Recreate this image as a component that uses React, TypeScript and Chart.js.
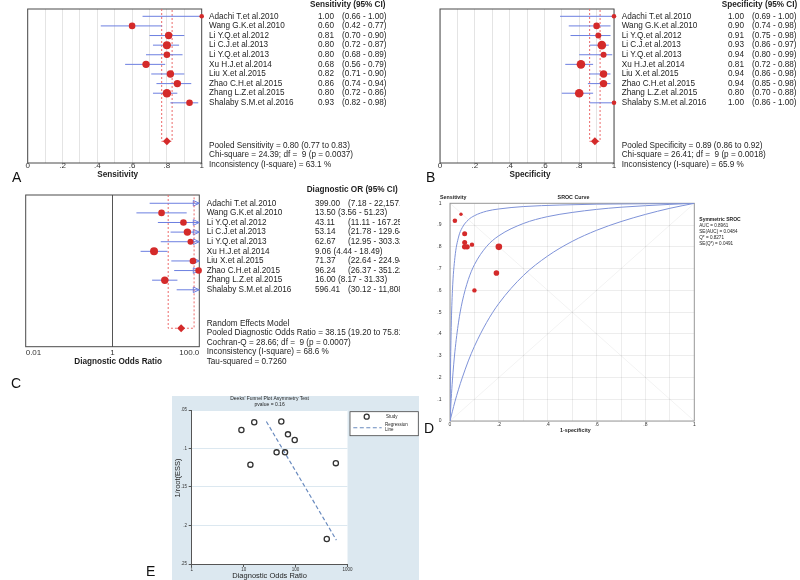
import { useEffect, useRef } from "react";
import { Chart, registerables } from "chart.js";

Chart.register(...registerables);

const FONT = '"Liberation Sans", Arial, Helvetica, sans-serif';
Chart.defaults.font.family = FONT;

const RED = "#d42a2a";
const BLUE = "#6c7fe0";
const PINK = "#ec6a6a";
const CURVE = "#7e92d8";
const TXT = "#1e1e1e";

// ---------------- data ----------------
const studies = [
  "Adachi T.et al.2010",
  "Wang G.K.et al.2010",
  "Li Y.Q.et al.2012",
  "Li C.J.et al.2013",
  "Li Y.Q.et al.2013",
  "Xu H.J.et al.2014",
  "Liu X.et al.2015",
  "Zhao C.H.et al.2015",
  "Zhang L.Z.et al.2015",
  "Shalaby S.M.et al.2016",
];

const sens = [1.0, 0.6, 0.81, 0.8, 0.8, 0.68, 0.82, 0.86, 0.8, 0.93];
const sensLo = [0.66, 0.42, 0.7, 0.72, 0.68, 0.56, 0.71, 0.74, 0.72, 0.82];
const sensHi = [1.0, 0.77, 0.9, 0.87, 0.89, 0.79, 0.9, 0.94, 0.86, 0.98];
const sensWeight = [2.3, 3.3, 3.7, 4.0, 3.3, 3.7, 3.7, 3.7, 4.3, 3.3];
const pooledSens = [0.8, 0.77, 0.83];
const sensHet = [24.39, 9, 0.0037, 63.1];

const spec = [1.0, 0.9, 0.91, 0.93, 0.94, 0.81, 0.94, 0.94, 0.8, 1.0];
const specLo = [0.69, 0.74, 0.75, 0.86, 0.8, 0.72, 0.86, 0.85, 0.7, 0.86];
const specHi = [1.0, 0.98, 0.98, 0.97, 0.99, 0.88, 0.98, 0.98, 0.88, 1.0];
const specWeight = [2.3, 3.3, 3.0, 4.3, 3.0, 4.3, 3.7, 3.7, 4.3, 2.3];
const pooledSpec = [0.89, 0.86, 0.92];
const specHet = [26.41, 9, 0.0018, 65.9];

const dor = [399.0, 13.5, 43.11, 53.14, 62.67, 9.06, 71.37, 96.24, 16.0, 596.41];
const dorLo = [7.18, 3.56, 11.11, 21.78, 12.95, 4.44, 22.64, 26.37, 8.17, 30.12];
const dorHi = [22157.79, 51.23, 167.25, 129.64, 303.32, 18.49, 224.94, 351.22, 31.33, 11808.15];
const dorWeight = [3.0, 3.3, 3.3, 3.7, 3.0, 4.0, 3.3, 3.3, 3.7, 3.0];
const pooledDor = [38.15, 19.2, 75.81];
const dorHet = [28.66, 9, 0.0007, 68.6];
const dorTau2 = 0.726;

const propTicks = [0, 0.1, 0.2, 0.3, 0.4, 0.5, 0.6, 0.7, 0.8, 0.9, 1];
const propTickLabels = ["0", "", ".2", "", ".4", "", ".6", "", ".8", "", "1"];
const dorTicks = [0.01, 1, 100];
const dorTickLabels = ["0.01", "1", "100.0"];

// SROC
const srocFpr = [0.045, 0.1, 0.09, 0.07, 0.06, 0.19, 0.06, 0.06, 0.2, 0.02];
const srocTpr = [0.95, 0.6, 0.81, 0.8, 0.8, 0.68, 0.82, 0.86, 0.8, 0.92];
const srocWeight = [1.7, 2.2, 2.2, 2.7, 2.7, 2.8, 2.5, 2.5, 3.3, 2.3];
const srocStats = [0.8961, 0.0484, 0.8271, 0.0491];
const srocTicks = [0, 0.1, 0.2, 0.3, 0.4, 0.5, 0.6, 0.7, 0.8, 0.9, 1];
const srocYLabels = ["0", ".1", ".2", ".3", ".4", ".5", ".6", ".7", ".8", ".9", "1"];
const srocXLabels = ["0", "", ".2", "", ".4", "", ".6", "", ".8", "", "1"];
const curveOuterFpr = [0, 0.002, 0.005, 0.01, 0.02, 0.035, 0.05, 0.075, 0.1, 0.15, 0.2, 0.3, 0.45, 0.6, 0.8, 1];
const curveOuterTpr = [0, 0.23, 0.43, 0.6, 0.75, 0.845, 0.888, 0.924, 0.943, 0.964, 0.974, 0.985, 0.992, 0.996, 0.998, 1];
const curveMidFpr = [0, 0.005, 0.01, 0.02, 0.035, 0.05, 0.075, 0.1, 0.15, 0.2, 0.3, 0.4, 0.5, 0.6, 0.7, 0.8, 0.9, 1];
const curveMidTpr = [0, 0.103, 0.188, 0.318, 0.454, 0.547, 0.65, 0.718, 0.802, 0.851, 0.907, 0.939, 0.958, 0.972, 0.982, 0.989, 0.995, 1];
const curveInnerFpr = [0, 0.01, 0.02, 0.035, 0.05, 0.075, 0.1, 0.15, 0.2, 0.3, 0.4, 0.5, 0.6, 0.7, 0.8, 0.9, 1];
const curveInnerTpr = [0, 0.045, 0.088, 0.146, 0.198, 0.276, 0.343, 0.453, 0.54, 0.668, 0.758, 0.825, 0.876, 0.916, 0.949, 0.977, 1];

// Deeks funnel
const deeksInvRootEss = [0.2175, 0.121, 0.105, 0.065, 0.105, 0.076, 0.0816, 0.089, 0.066, 0.119];
const deeksRegDor = [27.4, 611];
const deeksRegY = [0.065, 0.219];
const deeksP = 0.16;
const deeksXTicks = [1, 10, 100, 1000];
const deeksXLabels = ["1", "10", "100", "1000"];
const deeksYTicks = [0.05, 0.1, 0.15, 0.2, 0.25];
const deeksYLabels = [".05", ".1", ".15", ".2", ".25"];

// ---------------- helpers ----------------
const fmt2 = (v: number) =>
  v.toLocaleString("en-US", { minimumFractionDigits: 2, maximumFractionDigits: 2 });

const labelFrom = (ticks: number[], labels: string[]) => (v: number) => {
  const k = ticks.findIndex((t) => Math.abs(t - v) < 1e-9 * Math.max(1, Math.abs(t)));
  return k >= 0 ? labels[k] : "";
};

function hetLine(h: number[]) {
  return `Chi-square = ${h[0].toFixed(2)}; df =  ${h[1]} (p = ${h[2].toFixed(4)})`;
}

interface ForestSpec {
  vals: number[];
  lo: number[];
  hi: number[];
  weight: number[];
  pooled: number[];
  valText: string[];
  ciText: string[];
  header: string;
  stats: string[];
  title: string;
  xType: "linear" | "logarithmic";
  xMin: number;
  xMax: number;
  gridTicks: number[];
  tickLabelOf: (v: number) => string;
  gridColorOf: (v: number) => string;
  W: number;
  H: number;
  caL: number;
  caR: number;
  caT: number;
  caB: number;
  axisH: number;
  yMin: number;
  yMax: number;
  tickPad: number;
  tickAlign: "center" | "inner";
  labelX: number;
  valX: number;
  ciX: (i: number, ctx: CanvasRenderingContext2D) => number;
  headerX: number;
  headerY: number;
  statsY: number[];
  titleX: number;
  titleY: number;
  arrows: boolean;
}

function makeForest(canvas: HTMLCanvasElement, s: ForestSpec) {
  const n = s.vals.length;
  const pooledRow = n + 3;
  const idx = s.vals.map((_, i) => i);
  const shown = idx.filter((i) => s.vals[i] >= s.xMin && s.vals[i] <= s.xMax);
  const datasets: any[] = [
    {
      data: shown.map((i) => ({ x: s.vals[i], y: i })),
      pointRadius: shown.map((i) => s.weight[i]),
      backgroundColor: RED,
      borderColor: RED,
      borderWidth: 0,
      clip: false,
      order: 0,
    },
    {
      data: [{ x: s.pooled[0], y: pooledRow }],
      pointStyle: "rectRot",
      pointRadius: 4,
      backgroundColor: RED,
      borderColor: RED,
      borderWidth: 0,
      clip: false,
      order: 0,
    },
    ...idx.map((i) => ({
      data: [
        { x: s.lo[i], y: i },
        { x: s.hi[i], y: i },
      ],
      showLine: true,
      borderColor: BLUE,
      borderWidth: 1,
      pointRadius: 0,
      order: 1,
    })),
    {
      data: [
        { x: s.pooled[1], y: s.yMin },
        { x: s.pooled[1], y: pooledRow },
        { x: s.pooled[2], y: pooledRow },
        { x: s.pooled[2], y: s.yMin },
      ],
      showLine: true,
      borderColor: PINK,
      borderWidth: 1,
      borderDash: [2, 2],
      pointRadius: 0,
      order: 2,
    },
  ];

  const deco = {
    id: "forestDeco",
    beforeDatasetsDraw(chart: any) {
      const { ctx, chartArea: a } = chart;
      ctx.save();
      ctx.strokeStyle = "#4a4a4a";
      ctx.lineWidth = 1;
      ctx.strokeRect(a.left, a.top, a.right - a.left, a.bottom - a.top);
      if (s.arrows) {
        const y = chart.scales.y;
        idx.forEach((i) => {
          if (s.hi[i] > s.xMax) {
            const py = y.getPixelForValue(i);
            ctx.beginPath();
            ctx.moveTo(a.right, py);
            ctx.lineTo(a.right - 6, py - 2.8);
            ctx.lineTo(a.right - 6, py + 2.8);
            ctx.closePath();
            ctx.fillStyle = "#fff";
            ctx.fill();
            ctx.strokeStyle = BLUE;
            ctx.stroke();
          }
        });
      }
      ctx.restore();
    },
    afterDraw(chart: any) {
      const { ctx } = chart;
      const y = chart.scales.y;
      ctx.save();
      ctx.fillStyle = TXT;
      ctx.textBaseline = "middle";
      ctx.textAlign = "left";
      ctx.font = `bold 8.2px ${FONT}`;
      ctx.fillText(s.header, s.headerX, s.headerY);
      ctx.font = `8.2px ${FONT}`;
      studies.forEach((name, i) => {
        const py = y.getPixelForValue(i);
        ctx.fillText(name, s.labelX, py);
        ctx.fillText(s.valText[i], s.valX, py);
        ctx.fillText(s.ciText[i], s.ciX(i, ctx), py);
      });
      s.stats.forEach((t, k) => ctx.fillText(t, s.labelX, s.statsY[k]));
      ctx.font = `bold 8.2px ${FONT}`;
      ctx.textAlign = "center";
      ctx.fillText(s.title, s.titleX, s.titleY);
      ctx.restore();
    },
  };

  return new Chart(canvas, {
    type: "scatter",
    data: { datasets },
    plugins: [deco],
    options: {
      responsive: false,
      animation: false,
      devicePixelRatio: 1,
      events: [],
      layout: {
        autoPadding: false,
        padding: { left: s.caL, right: s.W - s.caR, top: s.caT, bottom: s.H - s.caB - s.axisH },
      },
      plugins: { legend: { display: false }, tooltip: { enabled: false } },
      scales: {
        x: {
          type: s.xType,
          min: s.xMin,
          max: s.xMax,
          afterBuildTicks: (sc: any) => {
            sc.ticks = s.gridTicks.map((v) => ({ value: v }));
          },
          afterFit: (sc: any) => {
            sc.height = s.axisH;
          },
          ticks: {
            callback: (v: any) => s.tickLabelOf(Number(v)),
            autoSkip: false,
            maxRotation: 0,
            minRotation: 0,
            padding: s.tickPad,
            align: s.tickAlign,
            color: "#333",
            font: { size: 8, lineHeight: 1 },
          },
          grid: {
            color: (c: any) => s.gridColorOf(c.tick ? c.tick.value : NaN),
            drawTicks: false,
            lineWidth: 1,
          },
          border: { display: false },
        },
        y: { type: "linear", min: s.yMin, max: s.yMax, reverse: true, display: false },
      },
    } as any,
  });
}

function makeSroc(canvas: HTMLCanvasElement) {
  const W = 420,
    H = 250,
    caL = 70,
    caR = 314.3,
    caT = 13.3,
    caB = 231;
  const yW = 20,
    xH = 12;
  const curve = (fx: number[], fy: number[]) => ({
    data: fx.map((x, i) => ({ x, y: fy[i] })),
    showLine: true,
    borderColor: CURVE,
    borderWidth: 1,
    pointRadius: 0,
    cubicInterpolationMode: "monotone",
    order: 1,
  });
  const datasets: any[] = [
    {
      data: srocFpr.map((x, i) => ({ x, y: srocTpr[i] })),
      pointRadius: srocWeight,
      backgroundColor: RED,
      borderColor: RED,
      borderWidth: 0,
      clip: false,
      order: 0,
    },
    curve(curveOuterFpr, curveOuterTpr),
    curve(curveMidFpr, curveMidTpr),
    curve(curveInnerFpr, curveInnerTpr),
    {
      data: [
        { x: 0, y: 0 },
        { x: 1, y: 1 },
      ],
      showLine: true,
      borderColor: "rgba(0,0,0,0.05)",
      borderWidth: 1,
      pointRadius: 0,
      order: 2,
    },
    {
      data: [
        { x: 0, y: 1 },
        { x: 1, y: 0 },
      ],
      showLine: true,
      borderColor: "rgba(0,0,0,0.05)",
      borderWidth: 1,
      pointRadius: 0,
      order: 2,
    },
  ];
  const deco = {
    id: "srocDeco",
    beforeDatasetsDraw(chart: any) {
      const { ctx, chartArea: a } = chart;
      ctx.save();
      ctx.strokeStyle = "#9a9a9a";
      ctx.lineWidth = 1;
      ctx.strokeRect(a.left, a.top, a.right - a.left, a.bottom - a.top);
      ctx.restore();
    },
    afterDraw(chart: any) {
      const { ctx, chartArea: a } = chart;
      ctx.save();
      ctx.fillStyle = TXT;
      ctx.textBaseline = "middle";
      ctx.font = `bold 5.3px ${FONT}`;
      ctx.textAlign = "left";
      ctx.fillText("Sensitivity", a.left - 10, a.top - 6);
      ctx.textAlign = "center";
      ctx.fillText("SROC Curve", 193.5, a.top - 6);
      ctx.fillText("1-specificity", 195.3, a.bottom + 9.7);
      ctx.textAlign = "left";
      const lx = a.right + 5;
      ctx.font = `bold 5px ${FONT}`;
      ctx.fillText("Symmetric SROC", lx, 30);
      ctx.font = `4.6px ${FONT}`;
      const lines = [
        `AUC = ${srocStats[0].toFixed(4)}`,
        `SE(AUC) = ${srocStats[1].toFixed(4)}`,
        `Q* = ${srocStats[2].toFixed(4)}`,
        `SE(Q*) = ${srocStats[3].toFixed(4)}`,
      ];
      lines.forEach((t, k) => ctx.fillText(t, lx, 35.7 + k * 5.9));
      ctx.restore();
    },
  };
  return new Chart(canvas, {
    type: "scatter",
    data: { datasets },
    plugins: [deco],
    options: {
      responsive: false,
      animation: false,
      devicePixelRatio: 1,
      events: [],
      layout: {
        autoPadding: false,
        padding: { left: caL - yW, right: W - caR, top: caT, bottom: H - caB - xH },
      },
      plugins: { legend: { display: false }, tooltip: { enabled: false } },
      scales: {
        x: {
          type: "linear",
          min: 0,
          max: 1,
          afterBuildTicks: (sc: any) => {
            sc.ticks = srocTicks.map((v) => ({ value: v }));
          },
          afterFit: (sc: any) => {
            sc.height = xH;
          },
          ticks: {
            callback: (v: any) => labelFrom(srocTicks, srocXLabels)(Number(v)),
            autoSkip: false,
            maxRotation: 0,
            padding: 1.5,
            color: "#333",
            font: { size: 5, lineHeight: 1 },
          },
          grid: { color: "rgba(0,0,0,0.07)", drawTicks: false },
          border: { display: false },
        },
        y: {
          type: "linear",
          min: 0,
          max: 1,
          afterBuildTicks: (sc: any) => {
            sc.ticks = srocTicks.map((v) => ({ value: v }));
          },
          afterFit: (sc: any) => {
            sc.width = yW;
          },
          ticks: {
            callback: (v: any) => labelFrom(srocTicks, srocYLabels)(Number(v)),
            autoSkip: false,
            padding: 8.5,
            color: "#333",
            font: { size: 5, lineHeight: 1 },
          },
          grid: { color: "rgba(0,0,0,0.07)", drawTicks: false },
          border: { display: false },
        },
      },
    } as any,
  });
}

function makeDeeks(canvas: HTMLCanvasElement) {
  const W = 247,
    H = 184,
    caL = 19.7,
    caR = 175.5,
    caT = 14,
    caB = 168;
  const yW = 12,
    xH = 10;
  const BG = "rgb(220,232,240)";
  const datasets: any[] = [
    {
      data: dor.map((x, i) => ({ x, y: deeksInvRootEss[i] })),
      pointRadius: 2.6,
      backgroundColor: "rgba(0,0,0,0)",
      borderColor: "#333",
      borderWidth: 1.3,
      order: 0,
    },
    {
      data: deeksRegDor.map((x, i) => ({ x, y: deeksRegY[i] })),
      showLine: true,
      borderColor: "#6a8bbf",
      borderWidth: 1.2,
      borderDash: [4, 2.5],
      pointRadius: 0,
      order: 1,
    },
  ];
  const deco = {
    id: "deeksDeco",
    beforeDraw(chart: any) {
      const { ctx, chartArea: a } = chart;
      ctx.save();
      ctx.fillStyle = BG;
      ctx.fillRect(0, 0, chart.width, chart.height);
      ctx.fillStyle = "#fff";
      ctx.fillRect(a.left, a.top, a.right - a.left, a.bottom - a.top);
      ctx.restore();
    },
    afterDraw(chart: any) {
      const { ctx, chartArea: a } = chart;
      ctx.save();
      ctx.fillStyle = TXT;
      ctx.textBaseline = "middle";
      ctx.textAlign = "center";
      const cx = (a.left + a.right) / 2;
      ctx.font = `5px ${FONT}`;
      ctx.fillText("Deeks' Funnel Plot Asymmetry Test", cx, 3);
      ctx.fillText(`pvalue = ${deeksP.toFixed(2)}`, cx, 8.5);
      ctx.font = `7.5px ${FONT}`;
      ctx.fillText("Diagnostic Odds Ratio", cx, 179.5);
      ctx.save();
      ctx.translate(5.5, 82);
      ctx.rotate(-Math.PI / 2);
      ctx.fillText("1/root(ESS)", 0, 0);
      ctx.restore();
      // legend box
      const bx = 178,
        by = 15.7,
        bw = 68.3,
        bh = 24;
      ctx.fillStyle = "#fff";
      ctx.fillRect(bx, by, bw, bh);
      ctx.strokeStyle = "#444";
      ctx.lineWidth = 0.8;
      ctx.strokeRect(bx, by, bw, bh);
      ctx.beginPath();
      ctx.arc(194.7, 20.7, 2.5, 0, Math.PI * 2);
      ctx.strokeStyle = "#333";
      ctx.lineWidth = 1.3;
      ctx.stroke();
      ctx.beginPath();
      ctx.setLineDash([4, 2.5]);
      ctx.strokeStyle = "#6a8bbf";
      ctx.lineWidth = 1.1;
      ctx.moveTo(181.3, 31.7);
      ctx.lineTo(209.7, 31.7);
      ctx.stroke();
      ctx.setLineDash([]);
      ctx.fillStyle = TXT;
      ctx.textAlign = "left";
      ctx.font = `4.5px ${FONT}`;
      ctx.fillText("Study", 214, 20.7);
      ctx.fillText("Regression", 213, 29.2);
      ctx.fillText("Line", 213, 33.8);
      ctx.restore();
    },
  };
  return new Chart(canvas, {
    type: "scatter",
    data: { datasets },
    plugins: [deco],
    options: {
      responsive: false,
      animation: false,
      devicePixelRatio: 1,
      events: [],
      layout: {
        autoPadding: false,
        padding: { left: caL - yW, right: W - caR, top: caT, bottom: H - caB - xH },
      },
      plugins: { legend: { display: false }, tooltip: { enabled: false } },
      scales: {
        x: {
          type: "logarithmic",
          min: 1,
          max: 1000,
          afterBuildTicks: (sc: any) => {
            sc.ticks = deeksXTicks.map((v) => ({ value: v }));
          },
          afterFit: (sc: any) => {
            sc.height = xH;
          },
          ticks: {
            callback: (v: any) => labelFrom(deeksXTicks, deeksXLabels)(Number(v)),
            autoSkip: false,
            maxRotation: 0,
            padding: 0.8,
            color: "#333",
            font: { size: 4.5, lineHeight: 1 },
          },
          grid: { drawOnChartArea: false, drawTicks: true, tickLength: 3, tickColor: "#555" },
          border: { display: true, color: "#555", width: 1 },
        },
        y: {
          type: "linear",
          min: 0.05,
          max: 0.25,
          reverse: true,
          afterBuildTicks: (sc: any) => {
            sc.ticks = deeksYTicks.map((v) => ({ value: v }));
          },
          afterFit: (sc: any) => {
            sc.width = yW;
          },
          ticks: {
            callback: (v: any) => labelFrom(deeksYTicks, deeksYLabels)(Number(v)),
            autoSkip: false,
            padding: 1.7,
            color: "#333",
            font: { size: 4.5, lineHeight: 1 },
          },
          grid: { color: BG, drawTicks: true, tickLength: 3, tickColor: "#555" },
          border: { display: true, color: "#555", width: 1 },
        },
      },
    } as any,
  });
}

// ---------------- component ----------------
export default function App() {
  const refA = useRef<HTMLCanvasElement>(null);
  const refB = useRef<HTMLCanvasElement>(null);
  const refC = useRef<HTMLCanvasElement>(null);
  const refD = useRef<HTMLCanvasElement>(null);
  const refE = useRef<HTMLCanvasElement>(null);

  useEffect(() => {
    const propText = (v: number[]) => v.map((x) => x.toFixed(2));
    const propCi = (lo: number[], hi: number[]) =>
      lo.map((l, i) => `(${l.toFixed(2)} - ${hi[i].toFixed(2)})`);
    const propLabel = labelFrom(propTicks, propTickLabels);
    const lightGrid = () => "#e4e4e4";

    const common = {
      xType: "linear" as const,
      xMin: 0,
      xMax: 1,
      gridTicks: propTicks,
      tickLabelOf: propLabel,
      gridColorOf: lightGrid,
      W: 400,
      H: 192,
      caT: 9,
      caB: 163,
      axisH: 12,
      yMin: -0.76,
      yMax: 15.26,
      tickPad: -1,
      tickAlign: "center" as const,
      headerY: 4.3,
      statsY: [145.7, 155.2, 164.7],
      titleY: 175,
      arrows: false,
    };

    const chartA = makeForest(refA.current!, {
      ...common,
      vals: sens,
      lo: sensLo,
      hi: sensHi,
      weight: sensWeight,
      pooled: pooledSens,
      valText: propText(sens),
      ciText: propCi(sensLo, sensHi),
      header: "Sensitivity (95% CI)",
      stats: [
        `Pooled Sensitivity = ${pooledSens[0].toFixed(2)} (${pooledSens[1].toFixed(2)} to ${pooledSens[2].toFixed(2)})`,
        hetLine(sensHet),
        `Inconsistency (I-square) = ${sensHet[3].toFixed(1)} %`,
      ],
      title: "Sensitivity",
      caL: 27.7,
      caR: 201.7,
      labelX: 209,
      valX: 318,
      ciX: () => 342,
      headerX: 310,
      titleX: 117.7,
    });

    const chartB = makeForest(refB.current!, {
      ...common,
      vals: spec,
      lo: specLo,
      hi: specHi,
      weight: specWeight,
      pooled: pooledSpec,
      valText: propText(spec),
      ciText: propCi(specLo, specHi),
      header: "Specificity (95% CI)",
      stats: [
        `Pooled Specificity = ${pooledSpec[0].toFixed(2)} (${pooledSpec[1].toFixed(2)} to ${pooledSpec[2].toFixed(2)})`,
        hetLine(specHet),
        `Inconsistency (I-square) = ${specHet[3].toFixed(1)} %`,
      ],
      title: "Specificity",
      caL: 40,
      caR: 214,
      labelX: 221.7,
      valX: 328,
      ciX: () => 352,
      headerX: 321.7,
      titleX: 130,
    });

    const dorVal = dor.map((v) => v.toFixed(2));
    const chartC = makeForest(refC.current!, {
      vals: dor,
      lo: dorLo,
      hi: dorHi,
      weight: dorWeight,
      pooled: pooledDor,
      valText: dorVal,
      ciText: dorLo.map((l, i) => `(${fmt2(l)} - ${fmt2(dorHi[i])})`),
      header: "Diagnostic OR (95% CI)",
      stats: [
        "Random Effects Model",
        `Pooled Diagnostic Odds Ratio = ${pooledDor[0].toFixed(2)} (${pooledDor[1].toFixed(2)} to ${pooledDor[2].toFixed(2)})`,
        `Cochran-Q = ${dorHet[0].toFixed(2)}; df =  ${dorHet[1]} (p = ${dorHet[2].toFixed(4)})`,
        `Inconsistency (I-square) = ${dorHet[3].toFixed(1)} %`,
        `Tau-squared = ${dorTau2.toFixed(4)}`,
      ],
      title: "Diagnostic Odds Ratio",
      xType: "logarithmic",
      xMin: 0.01,
      xMax: 100,
      gridTicks: dorTicks,
      tickLabelOf: labelFrom(dorTicks, dorTickLabels),
      gridColorOf: (v: number) => (Math.abs(v - 1) < 1e-9 ? "#555" : "rgba(0,0,0,0)"),
      W: 400,
      H: 210,
      caL: 25.7,
      caR: 199.3,
      caT: 10,
      caB: 161.7,
      axisH: 14,
      yMin: -0.86,
      yMax: 14.92,
      tickPad: 1.8,
      tickAlign: "inner",
      labelX: 206.7,
      valX: 315,
      ciX: (i: number, ctx: CanvasRenderingContext2D) =>
        dorLo[i] >= 10 || dor[i] >= 100 ? 348 : 315 + ctx.measureText(dorVal[i]).width + 2.5,
      headerX: 306.7,
      headerY: 5,
      statsY: [138.3, 147.7, 157.3, 167, 176.3],
      titleX: 118.2,
      titleY: 176.7,
      arrows: true,
    });

    const chartD = makeSroc(refD.current!);
    const chartE = makeDeeks(refE.current!);

    return () => {
      [chartA, chartB, chartC, chartD, chartE].forEach((c) => c.destroy());
    };
  }, []);

  const abs = (l: number, t: number) => ({ position: "absolute" as const, left: l, top: t });
  const letter = (ch: string, l: number, t: number) => (
    <div
      style={{
        ...abs(l, t),
        fontSize: 14,
        lineHeight: "14px",
        fontFamily: FONT,
        color: "#111",
      }}
    >
      {ch}
    </div>
  );

  return (
    <div
      style={{
        position: "absolute",
        left: 0,
        top: 0,
        width: 800,
        height: 580,
        background: "#fff",
        overflow: "hidden",
      }}
    >
      <canvas ref={refA} width={400} height={192} style={{ ...abs(0, 0), width: 400, height: 192 }} />
      <canvas ref={refB} width={400} height={192} style={{ ...abs(400, 0), width: 400, height: 192 }} />
      <canvas ref={refC} width={400} height={210} style={{ ...abs(0, 185), width: 400, height: 210 }} />
      <canvas ref={refD} width={420} height={250} style={{ ...abs(380, 190), width: 420, height: 250 }} />
      <canvas ref={refE} width={247} height={184} style={{ ...abs(172, 396), width: 247, height: 184 }} />
      {letter("A", 12, 170)}
      {letter("B", 426, 170)}
      {letter("C", 11, 376)}
      {letter("D", 424, 421)}
      {letter("E", 146, 564)}
    </div>
  );
}
